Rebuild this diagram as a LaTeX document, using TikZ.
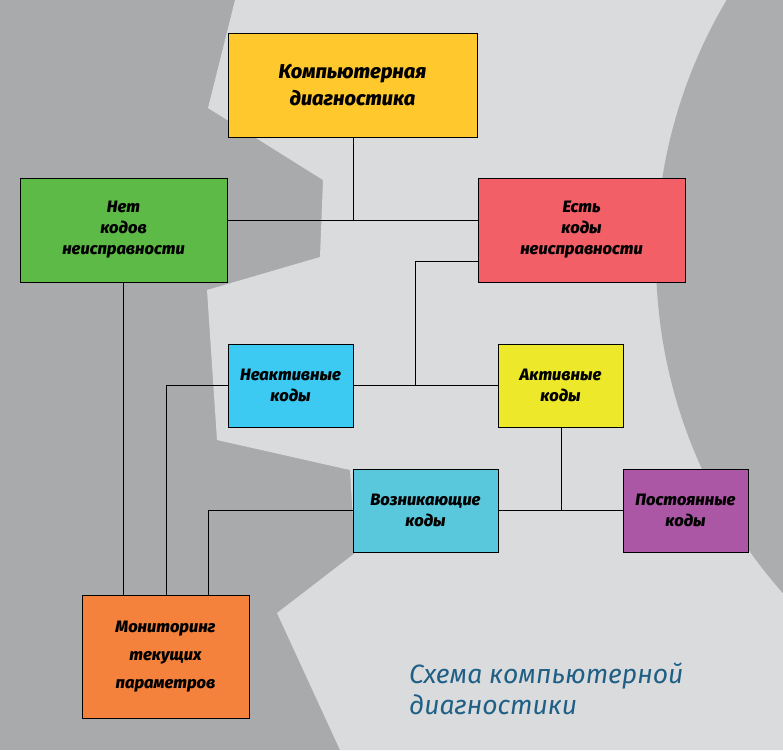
\documentclass[tikz,border=0pt]{standalone}
\usepackage{fontspec}
\setmainfont{Fira Sans}[BoldItalicFont={Fira Sans ExtraBold Italic}]
\newfontfamily\capfont{Fira Sans}
\definecolor{bgdark}{HTML}{A9AAAC}
\definecolor{bglight}{HTML}{DADBDD}
\definecolor{cTop}{HTML}{FFC92E}
\definecolor{cGreen}{HTML}{5DBA47}
\definecolor{cRed}{HTML}{F25F66}
\definecolor{cBlue}{HTML}{3CC9F2}
\definecolor{cYel}{HTML}{EDE82A}
\definecolor{cCyan}{HTML}{59C8DC}
\definecolor{cPurp}{HTML}{AB57A5}
\definecolor{cOrange}{HTML}{F5823C}
\definecolor{capcol}{HTML}{1F5F86}
\tikzset{
  box/.style={draw=black, line width=0.9pt, rectangle, align=center, inner sep=2pt,
    font=\fontsize{16.5}{21}\selectfont\bfseries\itshape},
  link/.style={draw=black, line width=0.8pt}
}
\begin{document}
\begin{tikzpicture}[x=1pt, y=-1pt]
\useasboundingbox (0,0) rectangle (783,750);
% background
\fill[bgdark] (0,0) rectangle (783,750);
\fill[bglight] (235,0) -- (208,108) -- (323,180) -- (320,257) -- (207,290) -- (217,440)
  -- (350,470) -- (355,553) -- (277,613) -- (340,750) -- (783,750) -- (783,0) -- cycle;
\begin{scope}
  \clip (0,0) rectangle (783,750);
  \fill[bgdark!97!white] (1162,258) circle[radius=506];
\end{scope}
% nodes
\node[box, fill=cTop, minimum width=249pt, minimum height=104pt,
  font=\fontsize{20}{27}\selectfont\bfseries\itshape] (top) at (352.5,85) {Компьютерная\\диагностика};
\node[box, fill=cGreen, minimum width=207pt, minimum height=104pt] (net) at (123.5,230) {Нет\\кодов\\неисправности};
\node[box, fill=cRed, minimum width=207pt, minimum height=104pt] (est) at (581.5,230) {Есть\\коды\\неисправности};
\node[box, fill=cBlue, minimum width=125pt, minimum height=83pt] (neakt) at (290.5,385.5) {Неактивные\\коды};
\node[box, fill=cYel, minimum width=125pt, minimum height=83pt] (akt) at (560.5,385.5) {Активные\\коды};
\node[box, fill=cCyan, minimum width=145pt, minimum height=83pt] (vozn) at (425.5,510.5) {Возникающие\\коды};
\node[box, fill=cPurp, minimum width=125pt, minimum height=83pt] (post) at (685.5,510.5) {Постоянные\\коды};
\node[box, fill=cOrange, minimum width=167pt, minimum height=123pt,
  font=\fontsize{16.5}{28}\selectfont\bfseries\itshape] (mon) at (165.5,656.5) {Мониторинг\\текущих\\параметров};
% junction coordinates
\coordinate (j1) at (353,220);
\coordinate (j2) at (415,261);
\coordinate (j3) at (415,385.5);
\coordinate (j4) at (561,510.5);
\coordinate (j5) at (166,385.5);
\coordinate (j6) at (208,510.5);
% connectors
\draw[link] (top.south -| j1) -- (j1);
\draw[link] (net.east |- j1) -- (est.west |- j1);
\draw[link] (est.west |- j2) -- (j2) -- (j3);
\draw[link] (neakt.east) -- (akt.west);
\draw[link] (akt.south -| j4) -- (j4);
\draw[link] (vozn.east) -- (post.west);
\draw[link] (net.south -| 123,0) -- (mon.north -| 123,0);
\draw[link] (neakt.west) -- (j5) -- (mon.north -| j5);
\draw[link] (vozn.west) -- (j6) -- (mon.north -| j6);
% caption
\node[anchor=north west, align=left, text=capcol, inner sep=0pt,
  font=\capfont\fontsize{26.5}{31}\selectfont\itshape] (cap) at (409,663) {Схема компьютерной\\диагностики};
\end{tikzpicture}
\end{document}
